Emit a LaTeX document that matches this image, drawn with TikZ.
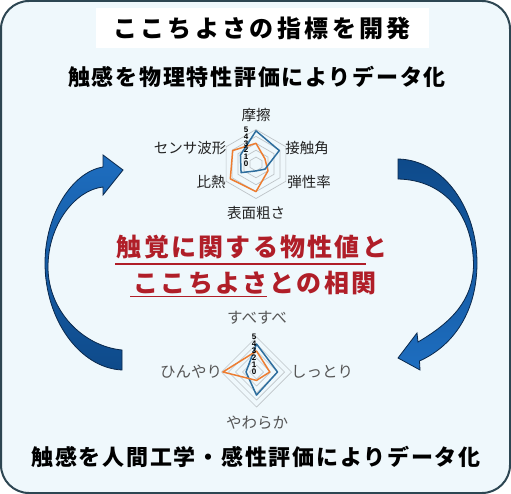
\documentclass[tikz,border=0pt]{standalone}
\usepackage{fontspec}
\newfontfamily\jp{Noto Sans CJK JP}
\newfontfamily\jptitle[LetterSpace=14]{Noto Sans CJK JP}
\newfontfamily\jphead[LetterSpace=8]{Noto Sans CJK JP}
\newfontfamily\jpred[LetterSpace=9]{Noto Sans CJK JP}
\newfontfamily\numf{Liberation Sans}
\definecolor{bordercol}{RGB}{45,70,82}
\definecolor{bgcol}{RGB}{239,248,252}
\definecolor{blueline}{RGB}{46,110,158}
\definecolor{orangeline}{RGB}{237,125,49}
\definecolor{gridcol}{RGB}{190,196,200}
\definecolor{redtext}{RGB}{176,30,40}
\definecolor{arrdark}{RGB}{14,74,138}
\definecolor{arrlight}{RGB}{30,110,192}
\definecolor{arredge}{RGB}{10,40,75}
\definecolor{labA}{RGB}{35,35,35}
\definecolor{labB}{RGB}{85,85,85}
\begin{document}
\begin{tikzpicture}[x=1pt,y=-1pt,
  heading/.style={font=\jphead\bfseries\fontsize{22}{22}\selectfont, text=black, inner sep=0pt},
  titlebox/.style={font=\jptitle\bfseries\fontsize{24}{24}\selectfont, text=black, fill=white, minimum width=333pt, minimum height=40pt, inner sep=0pt},
  redline/.style={font=\jpred\bfseries\fontsize{25}{25}\selectfont, text=redtext, inner sep=0pt},
  labone/.style={font=\jp\fontsize{14.5}{14.5}\selectfont, text=labA, inner sep=0pt},
  labtwo/.style={font=\jp\fontsize{15.5}{15.5}\selectfont, text=labB, inner sep=0pt},
  numlab/.style={font=\numf\bfseries\fontsize{8}{8}\selectfont, text=black, inner sep=0pt},
  gridline/.style={draw=gridcol, line width=0.7pt},
  bluedata/.style={draw=blueline, line width=1.5pt, line join=round},
  orangedata/.style={draw=orangeline, line width=1.5pt, line join=round},
  arrowshape/.style={draw=arredge, line width=0.8pt},
  underl/.style={draw=redtext, line width=1.4pt}
]
% background and frame
\fill[white] (0,0) rectangle (511,494);
\draw[fill=bgcol, draw=bordercol, line width=2pt, rounded corners=28pt] (1,1) rectangle (510,493);

% title
\node[titlebox] (title) at (262,28) {ここちよさの指標を開発};
\node[heading] (phys) at (257,77) {触感を物理特性評価によりデータ化};
\node[heading] (human) at (256,457) {触感を人間工学・感性評価によりデータ化};

% curved arrows
\path[arrowshape, top color=arrlight, bottom color=arrdark]
  (103,167) .. controls (72,172) and (45,215) .. (45,263)
  .. controls (45,320) and (80,368) .. (122,370)
  -- (122,350)
  .. controls (82,346) and (48,310) .. (48,267)
  .. controls (48,225) and (75,190) .. (103,187)
  -- (103,195) -- (123,170) -- (103,155) -- cycle;
\path[arrowshape, top color=arrdark, bottom color=arrlight]
  (398,159) .. controls (445,160) and (477,210) .. (477,263)
  .. controls (477,310) and (455,345) .. (419.5,361)
  -- (420,370) -- (398,358) -- (417,333) -- (418,342)
  .. controls (452,322) and (473,300) .. (473.5,265)
  .. controls (473,215) and (445,180) .. (398,179) -- cycle;

% radar chart 1
\begin{scope}[shift={(256,164)}, y=1pt]
  \foreach \k in {1,...,5} {
    \pgfmathsetmacro\rr{6.9*\k}
    \draw[gridline] (90:\rr) -- (30:\rr) -- (-30:\rr) -- (-90:\rr) -- (-150:\rr) -- (150:\rr) -- cycle;
  }
  \draw[orangedata] (90:{3.0*6.9}) -- (30:{1.5*6.9}) -- (-30:{2.0*6.9}) -- (-90:{4.0*6.9}) -- (-150:{4.3*6.9}) -- (150:{3.9*6.9}) -- cycle;
  \draw[bluedata] (90:{4.8*6.9}) -- (30:{3.9*6.9}) -- (-30:{1.5*6.9}) -- (-90:{1.0*6.9}) -- (-150:{2.5*6.9}) -- (150:{2.6*6.9}) -- cycle;
  \foreach \k in {0,...,5} {
    \node[numlab] (na\k) at (-10,{\k*6.9}) {\k};
  }
\end{scope}
\node[labone] (masatsu) at (256,115) {摩擦};
\node[labone] (sesshoku) at (307,148) {接触角};
\node[labone] (dansei) at (309,182) {弾性率};
\node[labone] (hyomen) at (256,213) {表面粗さ};
\node[labone] (hinetsu) at (211,182) {比熱};
\node[labone] (sensor) at (190,148) {センサ波形};

% central red text
\node[redline] (red1) at (252,247) {触覚に関する物性値と};
\node[redline] (red2) at (255,282.5) {ここちよさとの相関};
\draw[underl] (115,264) -- (366,264);
\draw[underl] (130,296.5) -- (267,296.5);

% radar chart 2
\begin{scope}[shift={(256.5,372)}, y=1pt]
  \foreach \k in {1,...,5} {
    \pgfmathsetmacro\rr{7*\k}
    \draw[gridline] (90:\rr) -- (0:\rr) -- (-90:\rr) -- (180:\rr) -- cycle;
  }
  \draw[bluedata] (90:{4.0*7}) -- (0:{3.0*7}) -- (-90:{3.3*7}) -- (180:{1.5*7}) -- cycle;
  \draw[orangedata] (90:{3.0*7}) -- (0:{1.9*7}) -- (-90:{1.2*7}) -- (180:{4.8*7}) -- cycle;
  \foreach \k in {0,...,5} {
    \node[numlab] (nb\k) at (-2.5,{\k*7}) {\k};
  }
\end{scope}
\node[labtwo] (subesube) at (257,318) {すべすべ};
\node[labtwo] (shittori) at (322,372) {しっとり};
\node[labtwo] (yawaraka) at (257,423) {やわらか};
\node[labtwo] (hinyari) at (191,372) {ひんやり};
\end{tikzpicture}
\end{document}
